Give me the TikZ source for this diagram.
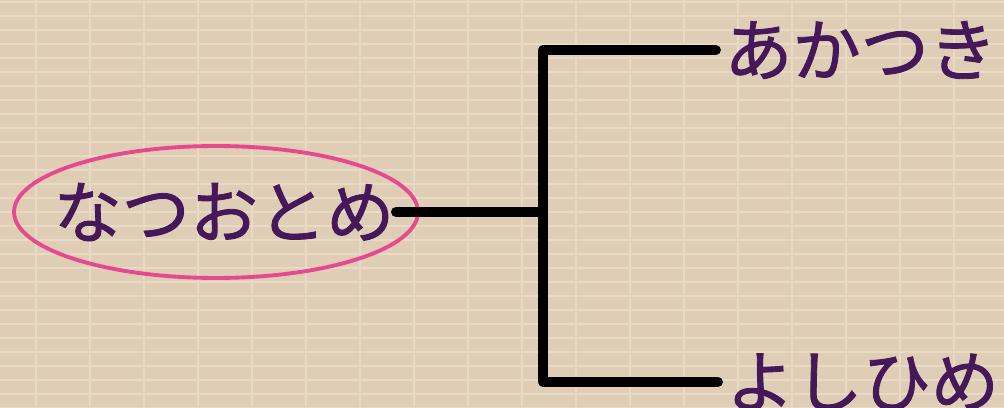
\documentclass[tikz,border=0pt]{standalone}
\usepackage{fontspec}
\newfontfamily\jpfont[FakeBold=1.2]{Noto Sans CJK JP}
\usetikzlibrary{shapes.geometric}
\definecolor{bgbeige}{HTML}{E0CDB5}
\definecolor{gridline}{HTML}{E9DAC6}
\definecolor{txtpurple}{HTML}{45185A}
\definecolor{pinkline}{HTML}{E64A8E}
\tikzset{
  lbl/.style={font=\jpfont\fontsize{38.8}{41}\selectfont, text=txtpurple, inner sep=0pt},
  branch/.style={line width=5.6pt, black, line cap=round, line join=round},
}
\begin{document}
\begin{tikzpicture}[x=0.02cm,y=-0.02cm]
\useasboundingbox (0,0) rectangle (1004,408);
\fill[bgbeige] (0,0) rectangle (1004,408);
\foreach \gx in {36,90,...,1004} \draw[gridline, line width=1.2pt] (\gx,0) -- (\gx,408);
\foreach \gy in {2,16,...,408} \draw[gridline, line width=0.7pt] (0,\gy) -- (1004,\gy);
\node[draw=pinkline, line width=2.2pt, ellipse, inner sep=0pt, minimum width=8.08cm, minimum height=2.64cm] (main) at (216,212) {};
\node[lbl] (maintext) at (224,212) {なつおとめ};
\node[lbl, anchor=west] (a) at (724,50) {あかつき};
\node[lbl, anchor=west] (b) at (726,382) {よしひめ};
\coordinate (j) at (543,212);
\draw[branch, shorten <=-0.48cm] (main.east) -- (j) |- ([xshift=-0.16cm]a.west);
\draw[branch] (j) |- ([xshift=-0.16cm]b.west);
\end{tikzpicture}
\end{document}
